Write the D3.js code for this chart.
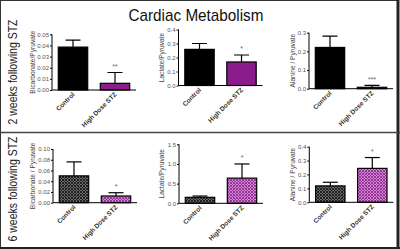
<!DOCTYPE html>
<html>
<head>
<meta charset="utf-8">
<script src="https://cdn.jsdelivr.net/npm/d3@7"></script>
<style>
  body { margin: 0; background: #fff; }
  svg { display: block; font-family: "Liberation Sans", Arial, sans-serif; }
</style>
</head>
<body>
<div id="chart"></div>
<script>

var groups = [ 'Control', 'High Dose STZ' ];
var rowLabels = [ '2 weeks following STZ', '6 weeks following STZ' ];
var yLabels2wk = [ 'Bicarbonate/Pyruvate', 'Lactate/Pyruvate', 'Alanine / Pyruvate' ];
var yLabels6wk = [ 'Bicarbonate / Pyruvate', 'Lactate/Pyruvate', 'Alanine / Pyruvate' ];

// mean and upper error (SEM) per panel, [control, high dose]
var mean2wk = [ [ 0.0385, 0.006 ], [ 0.258, 0.168 ], [ 0.221, 0.0075 ] ];
var err2wk = [ [ 0.0063, 0.0097 ], [ 0.042, 0.05 ], [ 0.061, 0.0105 ] ];
var sig2wk = [ '**', '*', '***' ];

var mean6wk = [ [ 0.050, 0.0125 ], [ 0.152, 0.64 ], [ 0.118, 0.244 ] ];
var err6wk = [ [ 0.026, 0.0061 ], [ 0.033, 0.36 ], [ 0.026, 0.078 ] ];
var sig6wk = [ '*', '*', '*' ];

var yMax2wk = [ 0.05, 0.4, 0.3 ];
var yStep2wk = [ 0.01, 0.1, 0.1 ];
var yMax6wk = [ 0.10, 1.5, 0.4 ];
var yStep6wk = [ 0.02, 0.5, 0.1 ];

var width = 400,
    height = 249;

var svg = d3.select('#chart').append('svg')
    .attr('width', width)
    .attr('height', height);

var defs = svg.append('defs');

// crosshatch fills for the 6 week bars
function hatch ( id, bg, fg ) {
    var p = defs.append('pattern')
        .attr('id', id)
        .attr('patternUnits', 'userSpaceOnUse')
        .attr('width', 3)
        .attr('height', 3);
    p.append('rect').attr('width', 3).attr('height', 3).attr('fill', bg);
    p.append('path')
        .attr('d', 'M0,0 L3,3 M3,0 L0,3')
        .attr('stroke', fg)
        .attr('stroke-width', 0.9);
}
hatch('hatchControl', '#6a6a6a', '#1a1a1a');
hatch('hatchStz', '#d484d4', '#8e2e8e');

defs.append('clipPath').attr('id', 'clipTop')
    .append('rect').attr('x', 0).attr('y', 0).attr('width', width).attr('height', 131.5);
defs.append('clipPath').attr('id', 'clipBottom')
    .append('rect').attr('x', 0).attr('y', 132).attr('width', width).attr('height', 117);

// title
svg.append('text')
    .attr('x', 196)
    .attr('y', 21)
    .attr('text-anchor', 'middle')
    .attr('font-size', 17)
    .attr('textLength', 135)
    .attr('lengthAdjust', 'spacingAndGlyphs')
    .style('fill', '#111')
    .text('Cardiac Metabolism');

// frame
svg.append('rect')
    .attr('x', 0.5).attr('y', 0.5)
    .attr('width', 397).attr('height', 247)
    .attr('fill', 'none')
    .attr('stroke', '#333')
    .attr('stroke-width', 1);
svg.append('line')
    .attr('x1', 398).attr('x2', 398).attr('y1', 0).attr('y2', height)
    .attr('stroke', '#222').attr('stroke-width', 3);
svg.append('line')
    .attr('x1', 0).attr('x2', width).attr('y1', 248).attr('y2', 248)
    .attr('stroke', '#222').attr('stroke-width', 2);
svg.append('line')
    .attr('x1', 0).attr('x2', width).attr('y1', 132.5).attr('y2', 132.5)
    .attr('stroke', '#444').attr('stroke-width', 1.3);

var rows = [
    { label: rowLabels[0], labelY: 72, clip: 'clipTop', axisX: [ 52, 178.5, 309 ], y0: [ 90, 85.5, 88.7 ], yTop: [ 34.3, 29.5, 32.7 ],
      mean: mean2wk, err: err2wk, sig: sig2wk, yMax: yMax2wk, yStep: yStep2wk, yLabels: yLabels2wk,
      fills: [ '#000', '#8b1c8c' ] },
    { label: rowLabels[1], labelY: 189, clip: 'clipBottom', axisX: [ 53, 179, 309.3 ], y0: [ 202.7, 203.3, 202.3 ], yTop: [ 149, 144.3, 146.7 ],
      mean: mean6wk, err: err6wk, sig: sig6wk, yMax: yMax6wk, yStep: yStep6wk, yLabels: yLabels6wk,
      fills: [ 'url(#hatchControl)', 'url(#hatchStz)' ] }
];

var labelX = [ 32.5, 162, 293 ];

rows.forEach( function ( row ) {

    var rg = svg.append('g').attr('clip-path', 'url(#' + row.clip + ')');

    rg.append('text')
        .attr('transform', 'translate(16.5,' + row.labelY + ') rotate(-90)')
        .attr('text-anchor', 'middle')
        .attr('font-size', 12.5)
        .attr('textLength', 105)
        .attr('lengthAdjust', 'spacingAndGlyphs')
        .style('fill', '#222')
        .text( row.label );

    row.mean.forEach( function ( means, i ) {

        var ax = row.axisX[i];

        var x = d3.scaleBand()
            .domain( groups )
            .range([ ax, ax + 84 ])
            .paddingInner( 0.3 )
            .paddingOuter( 0.15 );

        var y = d3.scaleLinear()
            .domain([ 0, row.yMax[i] ])
            .range([ row.y0[i], row.yTop[i] ]);

        var step = row.yStep[i];
        var ticks = d3.range( 0, row.yMax[i] + step / 2, step );
        var fmt = d3.format( step < 0.1 ? '.2f' : '.1f' );

        var g = rg.append('g');

        var data = groups.map( function ( name, j ) {
            return { name: name, mean: means[j], err: row.err[i][j], fill: row.fills[j] };
        });

        g.selectAll('.bar')
            .data( data )
            .enter().append('rect')
            .attr('class', 'bar')
            .attr('x', function ( d ) { return x( d.name ); })
            .attr('y', function ( d ) { return y( d.mean ); })
            .attr('width', x.bandwidth())
            .attr('height', function ( d ) { return y( 0 ) - y( d.mean ); })
            .style('fill', function ( d ) { return d.fill; })
            .style('stroke', '#000')
            .style('stroke-width', 1.2);

        // upper error bars
        var eb = g.selectAll('.err')
            .data( data )
            .enter().append('g')
            .attr('class', 'err');

        eb.append('line')
            .attr('x1', function ( d ) { return x( d.name ) + x.bandwidth() / 2; })
            .attr('x2', function ( d ) { return x( d.name ) + x.bandwidth() / 2; })
            .attr('y1', function ( d ) { return y( d.mean ); })
            .attr('y2', function ( d ) { return y( d.mean + d.err ); })
            .style('stroke', '#000')
            .style('stroke-width', 1.2);

        eb.append('line')
            .attr('x1', function ( d ) { return x( d.name ) + x.bandwidth() / 2 - 7.5; })
            .attr('x2', function ( d ) { return x( d.name ) + x.bandwidth() / 2 + 7.5; })
            .attr('y1', function ( d ) { return y( d.mean + d.err ); })
            .attr('y2', function ( d ) { return y( d.mean + d.err ); })
            .style('stroke', '#000')
            .style('stroke-width', 1.2);

        g.append('text')
            .attr('x', x( groups[1] ) + x.bandwidth() / 2)
            .attr('y', y( data[1].mean + data[1].err ) - 3.5)
            .attr('text-anchor', 'middle')
            .attr('font-size', 7)
            .style('fill', '#666')
            .text( row.sig[i] );

        // axes
        var yAxis = g.append('g')
            .attr('transform', 'translate(' + ax + ',0)')
            .call( d3.axisLeft( y ).tickValues( ticks ).tickFormat( fmt ).tickSize( 2 ).tickPadding( 1 ) );

        yAxis.select('.domain').attr('d', 'M0,' + y( 0 ) + 'V' + y( row.yMax[i] ) ).style('stroke-width', 1);
        yAxis.selectAll('text').attr('font-size', 6).style('fill', '#555').attr('font-family', 'Liberation Sans, Arial, sans-serif');

        g.append('line')
            .attr('x1', ax).attr('x2', ax + 84)
            .attr('y1', y( 0 )).attr('y2', y( 0 ))
            .style('stroke', '#000')
            .style('stroke-width', 1);

        g.selectAll('.xlab')
            .data( groups )
            .enter().append('text')
            .attr('class', 'xlab')
            .attr('transform', function ( d ) {
                return 'translate(' + ( x( d ) + x.bandwidth() / 2 + 2 ) + ',' + ( y( 0 ) + 5 ) + ') rotate(-45)';
            })
            .attr('text-anchor', 'end')
            .attr('font-size', 6.5)
            .attr('font-weight', 'bold')
            .style('fill', '#333')
            .text( function ( d ) { return d; });

        g.append('text')
            .attr('transform', 'translate(' + ( labelX[i] + 2 ) + ',' + ( ( y( 0 ) + y( row.yMax[i] ) ) / 2 ) + ') rotate(-90)')
            .attr('text-anchor', 'middle')
            .attr('font-size', 6.6)
            .style('fill', '#444')
            .text( row.yLabels[i] );

    });

});

</script>
</body>
</html>
